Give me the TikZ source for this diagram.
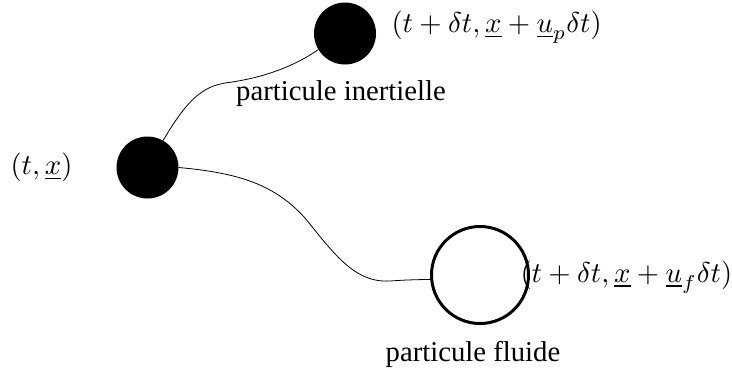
\documentclass[tikz,border=0pt]{standalone}
\usepackage[no-math]{fontspec}
\newfontfamily\tms{Liberation Serif}
\begin{document}
\begin{tikzpicture}[x=1pt,y=-1pt,
  blob/.style={circle,fill=black,inner sep=0pt,minimum size=62pt},
  ring/.style={circle,draw=black,line width=3pt,inner sep=0pt,minimum size=97pt},
  lbl/.style={scale=2.87,inner sep=0pt},
  link/.style={draw=black,line width=0.8pt}]
\useasboundingbox (0,0) rectangle (732,376);
\node[blob] (left) at (147.5,167.5) {};
\node[blob] (top) at (345,33.5) {};
\node[ring] (fluid) at (480,275) {};
\node[lbl,anchor=base west] (lx) at (10,174.5) {$(t,\underline{x})$};
\node[lbl,anchor=base west] (lp) at (391,32.7) {$(t+\delta t,\underline{x}+\underline{u}_p\delta t)$};
\node[lbl,anchor=base west] (lf) at (520,282) {$(t+\delta t,\underline{x}+\underline{u}_f\delta t)$};
\node[lbl,anchor=base] (ti) at (341,100) {\tms particule inertielle};
\node[lbl,anchor=base] (tf) at (473,361) {\tms particule fluide};
\draw[link] (left.60) .. controls (190,95) and (205,85) .. (232,82)
  .. controls (265,77) and (295,66) .. (top.211);
\draw[link] (left.0) .. controls (240,173) and (275,185) .. (305,218)
  .. controls (335,255) and (355,283) .. (390,281)
  .. controls (405,280) .. (fluid.185);
\end{tikzpicture}
\end{document}
